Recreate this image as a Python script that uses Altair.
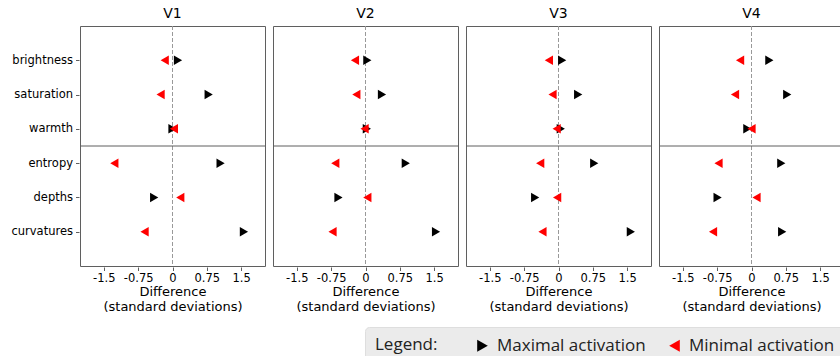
import altair as alt
import pandas as pd

panels = ["V1", "V2", "V3", "V4"]
features = ["brightness", "saturation", "warmth", "entropy", "depths", "curvatures"]
series = ["Maximal activation", "Minimal activation"]

max_v1 = [0.12, 0.79, 0.00, 1.05, -0.40, 1.56]
min_v1 = [-0.17, -0.26, 0.03, -1.27, 0.17, -0.61]
max_v2 = [0.04, 0.36, 0.03, 0.88, -0.59, 1.54]
min_v2 = [-0.23, -0.20, -0.02, -0.66, 0.04, -0.72]
max_v3 = [0.08, 0.43, 0.05, 0.78, -0.51, 1.58]
min_v3 = [-0.21, -0.13, -0.04, -0.40, -0.03, -0.35]
max_v4 = [0.39, 0.78, -0.09, 0.65, -0.74, 0.67]
min_v4 = [-0.25, -0.36, 0.00, -0.72, 0.11, -0.84]

x_tick_values = [-1.5, -0.75, 0, 0.75, 1.5]
x_tick_labels = ["-1.5", "-0.75", "0", "0.75", "1.5"]

maxima = [max_v1, max_v2, max_v3, max_v4]
minima = [min_v1, min_v2, min_v3, min_v4]

rows = []
for p, mx, mn in zip(panels, maxima, minima):
    for i, f in enumerate(features):
        rows.append({"panel": p, "feature": f, "idx": i, "series": series[0], "value": mx[i]})
        rows.append({"panel": p, "feature": f, "idx": i, "series": series[1], "value": mn[i]})
df = pd.DataFrame(rows)

feat_js = "[" + ",".join("'%s'" % f for f in features) + "]"
xv_js = "[" + ",".join(str(v) for v in x_tick_values) + "]"
xl_js = "[" + ",".join("'%s'" % s for s in x_tick_labels) + "]"

xscale = alt.Scale(domain=[-2.02, 2.02], nice=False, zero=False)
yscale = alt.Scale(domain=[-1, 6], reverse=True, nice=False, zero=False)

xaxis = alt.Axis(
    values=x_tick_values,
    labelExpr=xl_js + "[indexof(" + xv_js + ", datum.value)]",
    title=["Difference", "(standard deviations)"],
    grid=False, domain=False, labelPadding=2, titlePadding=1,
    titleLineHeight=15,
)
yaxis = alt.Axis(
    values=list(range(len(features))),
    labelExpr=feat_js + "[datum.value]",
    title=None, grid=False, domain=False, labelPadding=3,
)

legend = alt.Legend(
    orient="none", legendX=285, legendY=301, direction="horizontal",
    title="Legend:", titleOrient="left",
    fillColor="#ebebeb", strokeColor="#dedede", cornerRadius=4, padding=10,
    titleFont="Open Sans", titleFontSize=17, titleFontWeight="normal",
    titleColor="#222222", titlePadding=36, titleBaseline="middle",
    labelFont="Open Sans", labelFontSize=17, labelColor="#222222",
    labelOffset=6, columnPadding=20, labelLimit=300,
    symbolSize=150, symbolStrokeWidth=0, symbolOpacity=1,
)

base = alt.Chart(df)

points = base.mark_point(filled=True, size=90, opacity=1, strokeWidth=0).encode(
    x=alt.X("value:Q", scale=xscale, axis=xaxis),
    y=alt.Y("idx:Q", scale=yscale, axis=yaxis),
    color=alt.Color("series:N", scale=alt.Scale(domain=series, range=["#000000", "#ff0000"]),
                    title="Legend:", legend=legend),
    shape=alt.Shape("series:N", scale=alt.Scale(domain=series, range=["triangle-right", "triangle-left"]),
                    title="Legend:", legend=legend),
)

zero = base.transform_aggregate(n="count()", groupby=["panel"]).mark_rule(
    color="#999999", strokeDash=[4, 2], strokeWidth=1
).encode(x=alt.datum(0))

divider = base.transform_aggregate(n="count()", groupby=["panel"]).mark_rule(
    color="#5f5f5f", strokeWidth=1
).encode(y=alt.datum(2.5))

chart = alt.layer(zero, divider, points).properties(width=185, height=240).facet(
    column=alt.Column("panel:N", sort=panels, title=None,
                      header=alt.Header(labelFont="DejaVu Sans", labelFontSize=14,
                                        labelColor="#000000", labelPadding=4)),
    spacing=6,
).properties(
    autosize=alt.AutoSizeParams(type="none"),
    padding={"left": 80, "top": 26, "right": 760, "bottom": 330},
).configure_view(
    stroke="#5f5f5f", strokeWidth=1
).configure_axis(
    labelFont="DejaVu Sans", labelFontSize=11.5, labelColor="#000000",
    titleFont="DejaVu Sans", titleFontSize=13, titleColor="#000000", titleFontWeight="normal",
    tickColor="#5f5f5f", tickSize=3.5,
)

chart.save("out.html", embed_options={"renderer": "svg", "actions": False})
